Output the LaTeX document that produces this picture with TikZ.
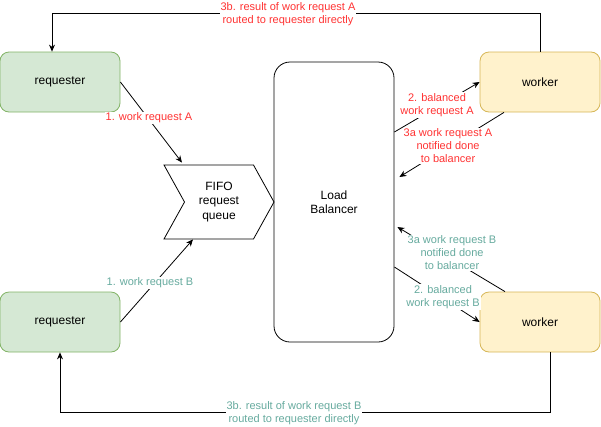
\documentclass[tikz,border=0pt]{standalone}
\usepackage{fontspec}
\setmainfont{Liberation Sans}
\usetikzlibrary{arrows.meta,shapes.symbols}
\definecolor{reqfill}{HTML}{D5E8D4}
\definecolor{reqdraw}{HTML}{82B366}
\definecolor{wrkfill}{HTML}{FFF2CC}
\definecolor{wrkdraw}{HTML}{D6B656}
\definecolor{lblred}{HTML}{FF3333}
\definecolor{lblteal}{HTML}{67AB9F}
\tikzset{/LB/S/box/.style={
	shape=rectangle, draw, line width=0.8pt, rounded corners=9pt,
	minimum width=120pt, minimum height=60pt, align=center,
	font=\fontsize{12}{14.5}\selectfont
}}
\tikzset{/LB/S/req/.style={/LB/S/box, fill=reqfill, draw=reqdraw}}
\tikzset{/LB/S/wrk/.style={/LB/S/box, fill=wrkfill, draw=wrkdraw}}
\tikzset{/LB/S/bal/.style={/LB/S/box, rounded corners=16pt, minimum height=280pt}}
\tikzset{/LB/S/queue/.style={
	shape=signal, signal from=west, signal to=east, signal pointer angle=122,
	draw, line width=0.8pt, minimum width=110pt, minimum height=74pt, inner sep=0pt,
	align=center, font=\fontsize{12}{14.5}\selectfont
}}
\tikzset{/LB/S/flow/.style={
	draw, line width=0.8pt, -{Stealth[length=7pt, width=6pt]}
}}
\tikzset{/LB/S/lbl/.style={
	fill=white, inner sep=1pt, align=center, font=\fontsize{11}{13}\selectfont
}}

\begin{document}
\begin{tikzpicture}[x=1pt, y=-1pt]
				\useasboundingbox (0,0) rectangle (601,426);
				% boxes
				\path (60,82) node[/LB/S/req] (RA) {requester};
				\path (60,322) node[/LB/S/req] (RB) {requester};
				\path (540,82) node[/LB/S/wrk] (WA) {worker};
				\path (540,322) node[/LB/S/wrk] (WB) {worker};
				\path (334,202) node[/LB/S/bal] (LB) {Load\\Balancer};
				\path (219,202) node[/LB/S/queue] (Q) {FIFO\\request\\queue};
				% flows
				\path[/LB/S/flow] (RA.east) -- ([xshift=-37pt, yshift=2pt]Q.north);
				\path[/LB/S/flow] (RB.east) -- ([xshift=-26pt]Q.south);
				\path[/LB/S/flow] ([yshift=70pt]LB.east) -- (WA.west);
				\path[/LB/S/flow] ([xshift=-36pt]WA.south) -- ([xshift=5pt, yshift=25pt]LB.east);
				\path[/LB/S/flow] ([xshift=-35pt]WB.north) -- ([xshift=3pt, yshift=-25pt]LB.east);
				\path[/LB/S/flow] ([yshift=-65pt]LB.east) -- (WB.west);
				\path[/LB/S/flow] (WA.north) -- ++(0,-38) -| ([xshift=-8pt]RA.north);
				\path[/LB/S/flow] ([xshift=10pt]WB.south) -- ++(0,60) -| (RB.south);
				% labels
				\path (149,118) node[/LB/S/lbl, text=lblred] (n1a) {1. work request A};
				\path (150,283) node[/LB/S/lbl, text=lblteal] (n1b) {1. work request B};
				\path (437,105) node[/LB/S/lbl, text=lblred] (n2a) {2. balanced\\work request A};
				\path (448,146) node[/LB/S/lbl, text=lblred] (n3aa) {3a work request A\\notified done\\to balancer};
				\path (452,253) node[/LB/S/lbl, text=lblteal] (n3ab) {3a work request B\\notified done\\to balancer};
				\path (443,297) node[/LB/S/lbl, text=lblteal] (n2b) {2. balanced\\work request B};
				\path (288,14) node[/LB/S/lbl, text=lblred] (n3ba) {3b. result of work request A\\routed to requester directly};
				\path (294,413) node[/LB/S/lbl, text=lblteal] (n3bb) {3b. result of work request B\\routed to requester directly};
\end{tikzpicture}
\end{document}
